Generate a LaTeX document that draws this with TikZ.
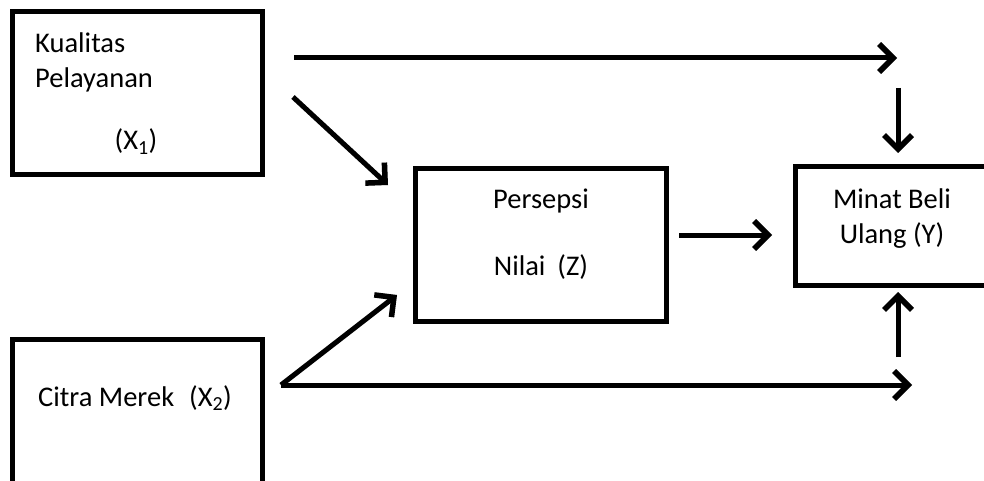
\documentclass[tikz,border=0pt]{standalone}
\usepackage{fontspec}
\setmainfont{Carlito}
\usetikzlibrary{arrows.meta}
\tikzset{
  box/.style={draw, line width=5pt, rectangle, inner sep=0pt},
  lbl/.style={inner sep=0pt, font=\fontsize{28.5}{34}\selectfont},
  tip/.style={-{Straight Barb[length=14pt, width=28pt, line width=5.5pt]}},
  link/.style={line width=5pt, tip},
  shade/.style={line width=5pt, black!15, tip}
}
\begin{document}
\begin{tikzpicture}[x=1pt, y=-1pt]
  \clip (0,0) rectangle (984,481);
  \fill[white] (0,0) rectangle (984,481);

  % boxes
  \node[box, minimum width=250pt, minimum height=163pt] (x1) at (137,93.5) {};
  \node[box, minimum width=250pt, minimum height=200pt] (x2) at (137,439) {};
  \node[box, minimum width=251pt, minimum height=152pt] (z) at (540.5,245) {};
  \node[box, minimum width=230pt, minimum height=118pt] (y) at (910,226) {};

  % box labels
  \node[lbl, anchor=base west] (x1a) at (35,53) {Kualitas};
  \node[lbl, anchor=base west] (x1b) at (35,88) {Pelayanan};
  \node[lbl, anchor=base] (x1c) at (136,150) {(X\textsubscript{1})};
  \node[lbl, anchor=base west] (x2a) at (38,406) {Citra Merek\hspace{15pt}(X\textsubscript{2})};
  \node[lbl, anchor=base] (za) at (541,208) {Persepsi};
  \node[lbl, anchor=base] (zb) at (541,275) {Nilai\hspace{12pt}(Z)};
  \node[lbl, anchor=base] (ya) at (892,208) {Minat Beli};
  \node[lbl, anchor=base] (yb) at (892,243) {Ulang (Y)};

  % connector end points
  \coordinate (t0) at (294,58);
  \coordinate (t1) at (897,58);
  \coordinate (d0) at (898,88);
  \coordinate (d1) at (898,153);
  \coordinate (u0) at (898,357);
  \coordinate (u1) at (898,292);
  \coordinate (b0) at (281,385);
  \coordinate (b1) at (912,385);
  \coordinate (p0) at (293,97);
  \coordinate (p1) at (388,185);
  \coordinate (q1) at (397,295);
  \coordinate (r0) at (679,235);
  \coordinate (r1) at (772,235);

  % soft shadows under the arrows
  \begin{scope}[shift={(2,3)}]
    \foreach \a/\b in {t0/t1,d0/d1,u0/u1,b0/b1,p0/p1,b0/q1,r0/r1}
      \draw[shade] (\a) -- (\b);
  \end{scope}

  % arrows
  \draw[link] (t0) -- (t1);
  \draw[link] (d0) -- (d1);
  \draw[link] (u0) -- (u1);
  \draw[link] (b0) -- (b1);
  \draw[link] (b0) -- (q1);
  \draw[link] (p0) -- (p1);
  \draw[link] (r0) -- (r1);
\end{tikzpicture}
\end{document}
